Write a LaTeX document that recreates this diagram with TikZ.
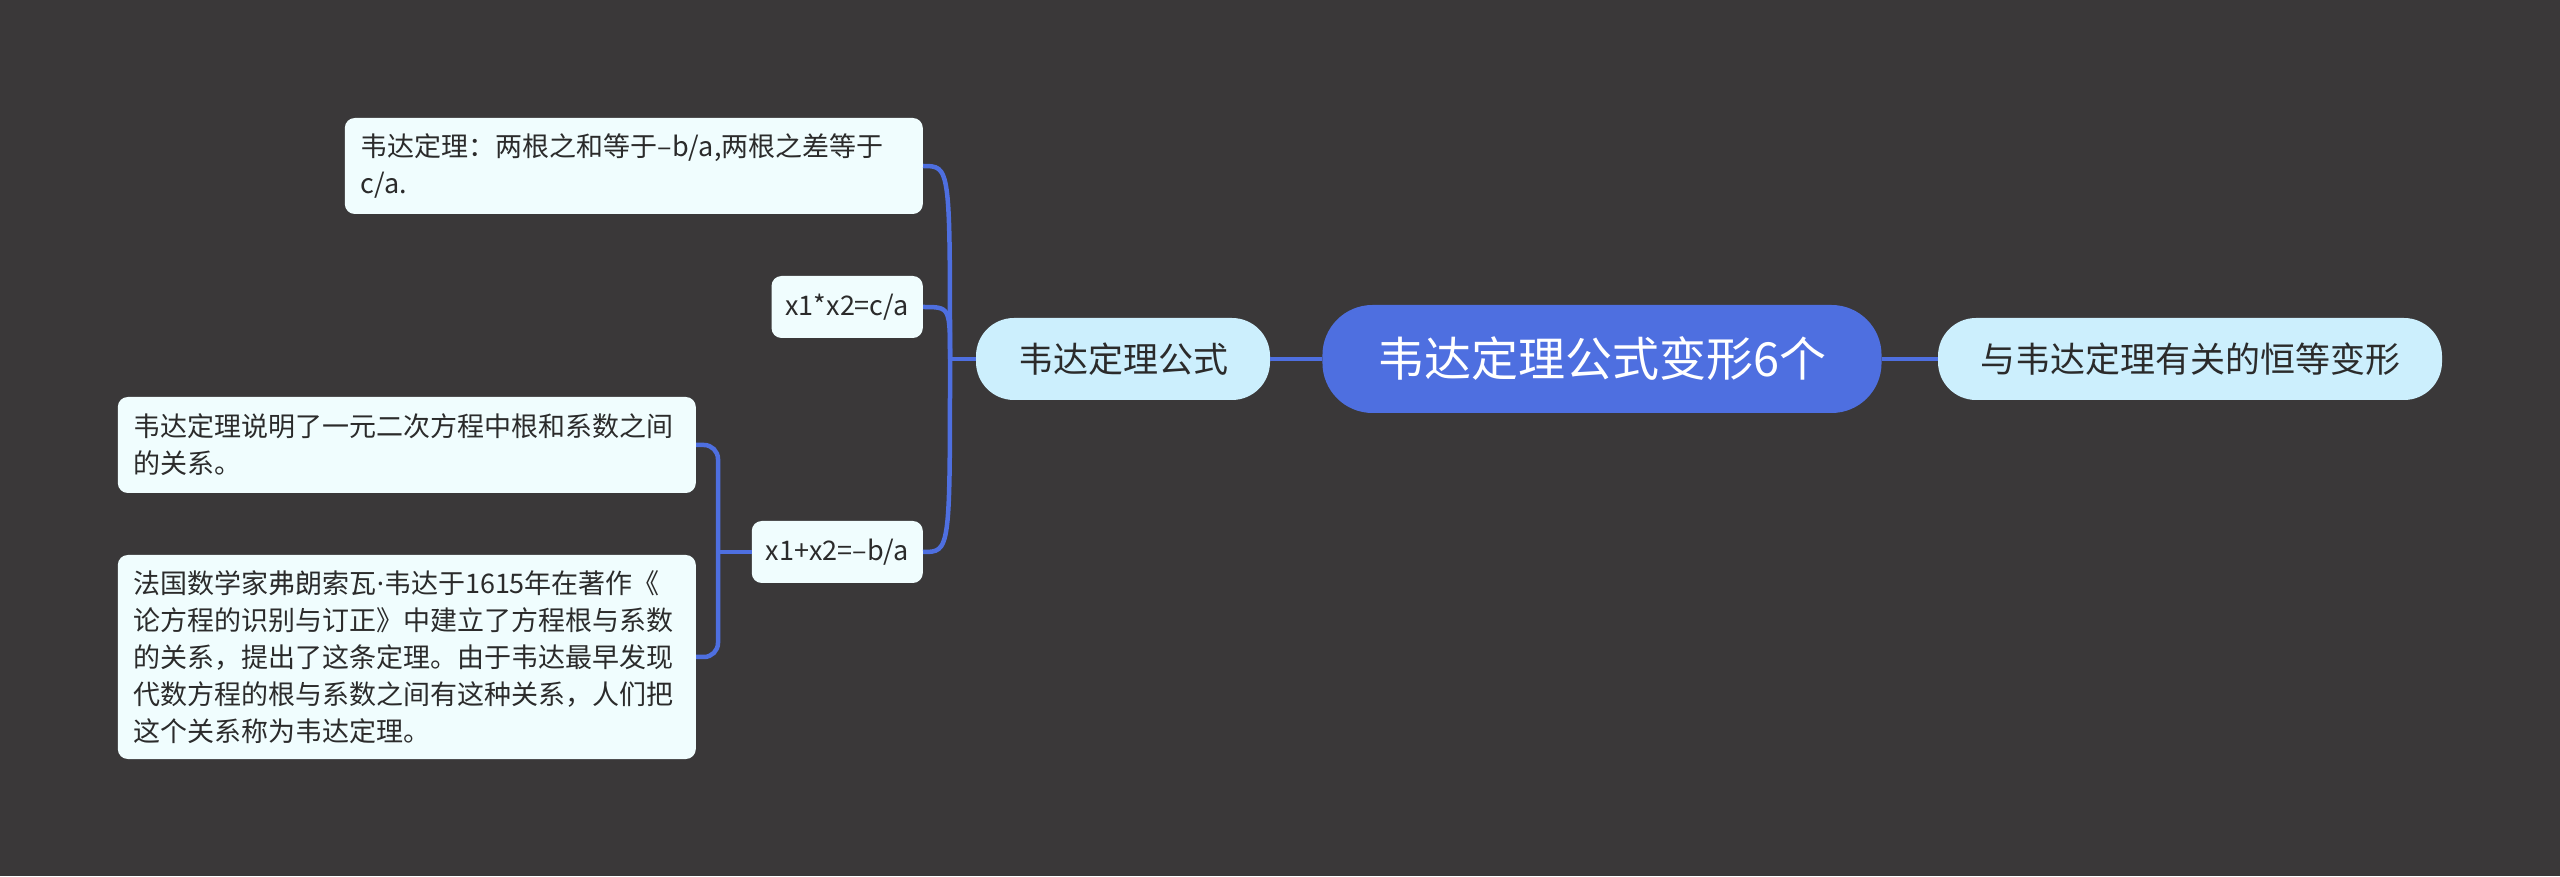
\documentclass[tikz,border=0pt]{standalone}
\usepackage{fontspec}
\setmainfont{Noto Sans CJK SC}
\newfontfamily\latinfont{Noto Sans}
\definecolor{bg}{HTML}{3A3839}
\definecolor{rootblue}{HTML}{4E6FE0}
\definecolor{topicfill}{HTML}{CCEFFD}
\definecolor{leaffill}{HTML}{F0FDFE}
\definecolor{ink}{HTML}{2B2B2B}
\tikzset{
  rootnode/.style={rectangle,rounded corners=50pt,fill=rootblue,
    text=white,font=\fontsize{47}{52}\selectfont,inner xsep=55pt,minimum height=108pt},
  topicnode/.style={rectangle,rounded corners=38pt,fill=topicfill,
    text=ink,font=\fontsize{35}{42}\selectfont,inner xsep=42pt,minimum height=82pt},
  leafnode/.style={rectangle,rounded corners=10pt,fill=leaffill,
    text=ink,font=\fontsize{27}{37}\selectfont,align=left,inner xsep=14pt,minimum height=62pt},
  noteleaf/.style={leafnode,anchor=east,text width=546pt,inner xsep=16pt},
  branch/.style={draw=rootblue,line width=4.5pt}
}
\begin{document}
\begin{tikzpicture}[x=1pt,y=1pt]
  \fill[bg] (0,0) rectangle (2560,876);
  \node[rootnode] (R) at (1602,517) {韦达定理公式变形6个};
  \node[topicnode] (F) at (1123,517) {韦达定理公式};
  \node[topicnode] (I) at (2190,517) {与韦达定理有关的恒等变形};
	\node[noteleaf,minimum height=96pt] (T) at (923,710) {韦达定理：两根之和等于–b/a,两根之差等于\\c/a.};
	\node[leafnode,anchor=east] (P) at (923,569) {x1*x2=c/a};
	\node[leafnode,anchor=east] (S) at (923,324) {x1+x2=–b/a};
	\node[noteleaf,minimum height=96pt] (D) at (696,431) {韦达定理说明了一元二次方程中根和系数之间\\的关系。};
	\node[noteleaf,minimum height=204pt] (H) at (696,219) {法国数学家弗朗索瓦{\latinfont ·}韦达于1615年在著作《\\论方程的识别与订正》中建立了方程根与系数\\的关系，提出了这条定理。由于韦达最早发现\\代数方程的根与系数之间有这种关系，人们把\\这个关系称为韦达定理。};
  \coordinate (J) at (950,517);
  \coordinate (K) at (718,324);
	\draw[branch] (R) -- (F);
	\draw[branch] (R) -- (I);
	\draw[branch] (F.west) -- (J);
	\draw[branch] (T.east) .. controls (T.east -| J) .. (J);
	\draw[branch] (P.east) .. controls (P.east -| J) .. (J);
	\draw[branch] (S.east) .. controls (S.east -| J) .. (J);
	\draw[branch] (S.west) -- (K);
	\draw[branch,rounded corners=14pt] (D.east) -| (K);
	\draw[branch,rounded corners=14pt] (H.east) -| (K);
\end{tikzpicture}
\end{document}
